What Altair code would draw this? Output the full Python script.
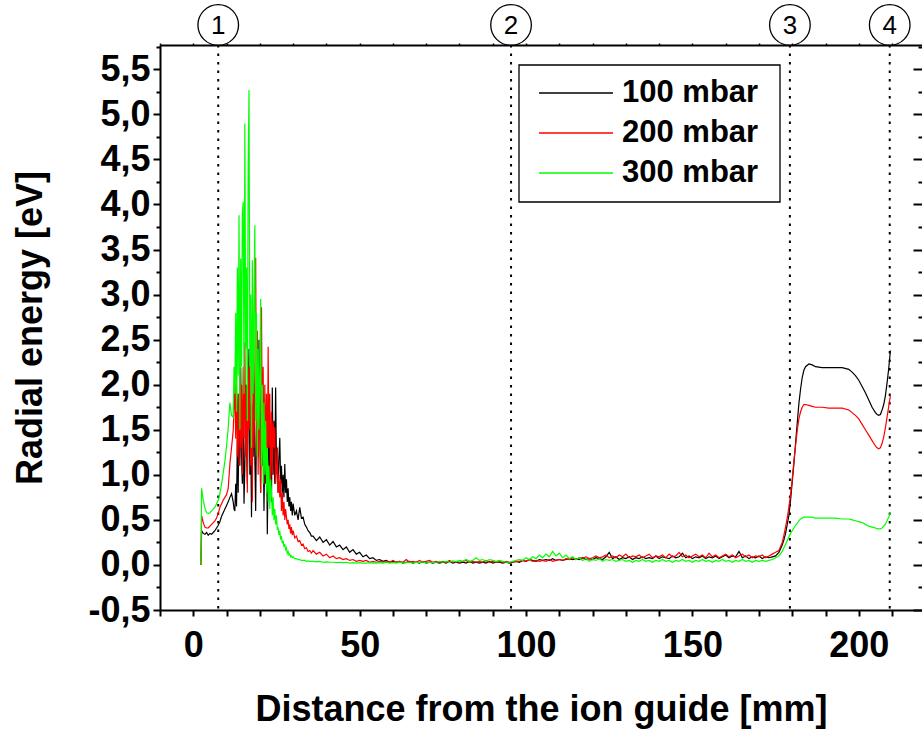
import altair as alt
import pandas as pd

FONT = "Liberation Sans"

SERIES = ["100 mbar", "200 mbar", "300 mbar"]
COLORS = ["#000000", "#ff0000", "#00ff00"]

# ---- x sampling grids (mm) ----
HX = [2.3, 2.5, 3, 3.5, 4, 4.5, 5, 5.5, 6, 6.5,
      7, 7.5, 8, 8.5, 9, 9.5, 10, 10.5, 11, 11.5,
      12, 12.25, 12.5, 12.75, 13, 13.25, 13.5, 13.75, 14, 14.25,
      14.5, 14.75, 15, 15.25, 15.5, 15.75, 16, 16.25, 16.5, 16.75,
      17, 17.25, 17.5, 17.75, 18, 18.25, 18.5, 18.75, 19, 19.25,
      19.5, 19.75, 20, 20.25, 20.5, 20.75, 21, 21.25, 21.5, 21.75,
      22, 22.25, 22.5, 22.75, 23, 23.25, 23.5, 23.75, 24, 24.25,
      24.5, 24.75, 25, 25.25, 25.5, 25.75, 26, 26.25, 26.5, 26.75,
      27, 27.25, 27.5, 27.75, 28, 28.25, 28.5, 28.75, 29, 29.25,
      29.5, 29.75, 30, 30.5, 31, 31.5, 32, 32.5, 33, 33.5,
      34, 34.5, 35, 35.5]

FX = [36, 37, 38, 39, 40, 41, 42, 43, 44, 45,
      46, 47, 48, 49, 50, 51, 52, 53, 54, 55,
      56, 57, 58, 59, 60, 61, 62, 63, 64, 65,
      66, 67, 68, 69, 70, 71, 72, 73, 74, 75,
      76, 77, 78, 79, 80, 81, 82, 83, 84, 85,
      86, 87, 88, 89, 90, 91, 92, 93, 94, 95,
      96, 97, 98, 99, 100, 101, 102, 103, 104, 105,
      106, 107, 108, 109, 110, 111, 112, 113, 114, 115,
      116, 117, 118, 119, 120, 121, 122, 123, 124, 125,
      126, 127, 128, 129, 130, 131, 132, 133, 134, 135,
      136, 137, 138, 139, 140, 141, 142, 143, 144, 145,
      146, 147, 148, 149, 150, 151, 152, 153, 154, 155,
      156, 157, 158, 159, 160, 161, 162, 163, 164, 165,
      166, 167, 168, 169, 170, 171, 172, 173, 174, 175]

TX = [176, 177, 177.5, 178, 178.5, 179, 179.5, 180, 180.5, 181,
      181.5, 182, 182.5, 183, 183.5, 184, 185, 186, 187, 189,
      191, 193, 195, 197, 198, 199, 200, 201, 202, 203,
      204, 205, 205.5, 206, 206.5, 207, 207.5, 208, 208.5, 209,
      209.5]

# ---- 100 mbar (black) ----
B_HEAD = [0.0, 0.38, 0.35, 0.34, 0.36, 0.33, 0.35, 0.34, 0.36, 0.38,
          0.41, 0.44, 0.48, 0.54, 0.58, 0.62, 0.66, 0.70, 0.75, 0.79,
          0.70, 0.62, 0.60, 0.90, 0.65, 1.40, 0.80, 1.90, 1.10, 2.19,
          1.20, 0.90, 1.60, 0.68, 1.10, 2.00, 1.34, 0.90, 1.70, 2.40,
          1.00, 1.50, 0.53, 1.75, 1.20, 2.00, 1.19, 0.60, 1.60, 2.03,
          1.20, 2.50, 1.60, 0.80, 2.03, 1.10, 1.50, 0.60, 1.30, 0.90,
          1.70, 0.34, 1.10, 1.60, 0.90, 1.40, 0.70, 1.97, 1.00, 1.60,
          0.90, 1.97, 1.10, 1.30, 0.80, 1.20, 1.41, 0.90, 1.10, 0.80,
          1.00, 0.75, 1.12, 0.80, 0.95, 0.70, 0.85, 0.65, 0.75, 0.60,
          0.70, 0.55, 0.68, 0.55, 0.60, 0.50, 0.64, 0.52, 0.53, 0.45,
          0.42, 0.38, 0.36, 0.32]
B_FLAT = [0.32, 0.27, 0.31, 0.25, 0.28, 0.22, 0.26, 0.20, 0.22, 0.17,
          0.20, 0.14, 0.17, 0.12, 0.14, 0.09, 0.11, 0.07, 0.08, 0.05,
          0.06, 0.04, 0.05, 0.03, 0.04, 0.03, 0.04, 0.02, 0.03, 0.04,
          0.02, 0.03, 0.02, 0.04, 0.02, 0.03, 0.02, 0.03, 0.02, 0.03,
          0.02, 0.04, 0.02, 0.03, 0.02, 0.03, 0.02, 0.04, 0.02, 0.03,
          0.02, 0.03, 0.02, 0.04, 0.02, 0.03, 0.03, 0.02, 0.03, 0.02,
          0.03, 0.04, 0.03, 0.05, 0.04, 0.06, 0.05, 0.04, 0.06, 0.05,
          0.06, 0.05, 0.07, 0.05, 0.06, 0.05, 0.06, 0.07, 0.06, 0.07,
          0.06, 0.08, 0.06, 0.07, 0.06, 0.08, 0.07, 0.06, 0.09, 0.14,
          0.07, 0.09, 0.06, 0.08, 0.07, 0.09, 0.06, 0.08, 0.07, 0.09,
          0.07, 0.08, 0.07, 0.10, 0.07, 0.09, 0.08, 0.07, 0.10, 0.08,
          0.09, 0.13, 0.08, 0.10, 0.07, 0.09, 0.08, 0.10, 0.07, 0.09,
          0.08, 0.10, 0.07, 0.09, 0.11, 0.08, 0.10, 0.09, 0.15, 0.08,
          0.10, 0.07, 0.09, 0.08, 0.10, 0.07, 0.09, 0.08, 0.09, 0.10]
B_TAIL = [0.14, 0.22, 0.28, 0.35, 0.45, 0.55, 0.72, 0.92, 1.12, 1.35,
          1.57, 1.79, 1.95, 2.08, 2.16, 2.20, 2.23, 2.22, 2.20, 2.19,
          2.19, 2.19, 2.19, 2.17, 2.14, 2.10, 2.05, 1.98, 1.91, 1.83,
          1.75, 1.69, 1.67, 1.66, 1.67, 1.72, 1.78, 1.88, 2.02, 2.18,
          2.38]

# ---- 200 mbar (red) ----
R_HEAD = [0.0, 0.55, 0.47, 0.42, 0.41, 0.41, 0.43, 0.45, 0.47, 0.49,
          0.52, 0.57, 0.64, 0.68, 0.72, 0.75, 0.78, 0.85, 1.12, 1.30,
          1.49, 1.75, 2.00, 1.40, 2.10, 1.20, 1.90, 1.10, 2.30, 1.30,
          2.00, 1.00, 2.20, 1.40, 2.47, 1.20, 2.00, 0.80, 2.20, 1.50,
          2.30, 1.10, 1.80, 0.70, 2.53, 1.30, 2.00, 3.41, 1.20, 2.60,
          1.00, 2.20, 1.50, 0.80, 2.86, 1.30, 2.20, 0.90, 2.00, 1.20,
          1.90, 0.90, 2.42, 1.30, 1.90, 0.90, 1.70, 1.00, 1.60, 1.30,
          1.53, 0.90, 1.04, 1.30, 0.80, 1.00, 0.75, 0.95, 0.60, 0.80,
          0.55, 0.70, 0.50, 0.62, 0.53, 0.45, 0.50, 0.40, 0.45, 0.35,
          0.42, 0.33, 0.38, 0.30, 0.32, 0.26, 0.27, 0.22, 0.23, 0.18,
          0.19, 0.15, 0.16, 0.13]
R_FLAT = [0.16, 0.12, 0.14, 0.10, 0.12, 0.08, 0.10, 0.07, 0.08, 0.06,
          0.07, 0.05, 0.06, 0.04, 0.05, 0.04, 0.05, 0.03, 0.04, 0.03,
          0.04, 0.03, 0.04, 0.03, 0.05, 0.03, 0.04, 0.03, 0.06, 0.03,
          0.04, 0.03, 0.05, 0.03, 0.04, 0.05, 0.03, 0.04, 0.03, 0.04,
          0.03, 0.05, 0.03, 0.04, 0.03, 0.04, 0.05, 0.03, 0.04, 0.03,
          0.04, 0.03, 0.05, 0.03, 0.04, 0.03, 0.04, 0.03, 0.04, 0.03,
          0.03, 0.04, 0.04, 0.05, 0.04, 0.06, 0.04, 0.05, 0.04, 0.05,
          0.04, 0.06, 0.04, 0.05, 0.06, 0.05, 0.07, 0.06, 0.08, 0.06,
          0.08, 0.07, 0.09, 0.07, 0.08, 0.10, 0.08, 0.09, 0.11, 0.08,
          0.10, 0.08, 0.11, 0.09, 0.12, 0.08, 0.10, 0.09, 0.11, 0.08,
          0.10, 0.12, 0.08, 0.10, 0.09, 0.11, 0.08, 0.12, 0.09, 0.10,
          0.14, 0.09, 0.11, 0.08, 0.10, 0.12, 0.09, 0.11, 0.08, 0.13,
          0.09, 0.11, 0.08, 0.10, 0.12, 0.09, 0.11, 0.08, 0.10, 0.12,
          0.09, 0.11, 0.08, 0.10, 0.09, 0.11, 0.08, 0.10, 0.12, 0.14]
R_TAIL = [0.16, 0.25, 0.33, 0.42, 0.52, 0.64, 0.78, 0.95, 1.15, 1.32,
          1.49, 1.62, 1.70, 1.75, 1.78, 1.78, 1.77, 1.76, 1.75, 1.75,
          1.74, 1.74, 1.74, 1.72, 1.69, 1.66, 1.62, 1.56, 1.50, 1.44,
          1.38, 1.32, 1.30, 1.29, 1.30, 1.35, 1.42, 1.52, 1.64, 1.76,
          1.88]

# ---- 300 mbar (green) ----
G_HEAD = [0.0, 0.85, 0.72, 0.63, 0.58, 0.57, 0.58, 0.60, 0.62, 0.64,
          0.68, 0.72, 0.79, 0.90, 1.02, 1.15, 1.32, 1.52, 1.80, 1.66,
          1.64, 2.20, 1.90, 2.80, 1.70, 3.30, 2.10, 3.88, 1.50, 3.40,
          2.20, 3.90, 4.03, 1.90, 4.90, 2.40, 3.30, 1.60, 4.40, 5.27,
          2.20, 3.00, 1.30, 3.38, 1.90, 2.90, 3.77, 1.60, 2.80, 1.20,
          2.40, 1.50, 2.20, 2.95, 1.10, 2.00, 0.90, 1.80, 1.00, 1.60,
          0.80, 1.30, 0.70, 1.10, 0.62, 0.95, 0.82, 0.55, 0.75, 0.50,
          0.62, 0.45, 0.55, 0.40, 0.41, 0.33, 0.38, 0.28, 0.32, 0.24,
          0.27, 0.20, 0.23, 0.17, 0.19, 0.13, 0.15, 0.11, 0.12, 0.09,
          0.10, 0.08, 0.09, 0.07, 0.07, 0.06, 0.06, 0.05, 0.05, 0.05,
          0.04, 0.045, 0.04, 0.04]
G_FLAT = [0.04, 0.035, 0.04, 0.03, 0.035, 0.03, 0.03, 0.025, 0.03, 0.025,
          0.03, 0.02, 0.025, 0.02, 0.025, 0.02, 0.02, 0.025, 0.02, 0.02,
          0.025, 0.02, 0.03, 0.02, 0.025, 0.02, 0.03, 0.02, 0.025, 0.03,
          0.02, 0.03, 0.025, 0.035, 0.02, 0.03, 0.025, 0.03, 0.04, 0.03,
          0.04, 0.03, 0.045, 0.035, 0.05, 0.04, 0.06, 0.04, 0.05, 0.08,
          0.05, 0.06, 0.04, 0.06, 0.05, 0.04, 0.05, 0.04, 0.03, 0.03,
          0.04, 0.05, 0.06, 0.05, 0.08, 0.06, 0.09, 0.07, 0.11, 0.08,
          0.12, 0.09, 0.15, 0.10, 0.13, 0.08, 0.11, 0.07, 0.09, 0.06,
          0.08, 0.05, 0.07, 0.04, 0.06, 0.05, 0.07, 0.04, 0.06, 0.05,
          0.06, 0.04, 0.05, 0.06, 0.04, 0.05, 0.03, 0.05, 0.04, 0.06,
          0.04, 0.05, 0.03, 0.05, 0.04, 0.06, 0.04, 0.05, 0.03, 0.05,
          0.04, 0.06, 0.04, 0.05, 0.03, 0.05, 0.04, 0.06, 0.04, 0.05,
          0.03, 0.05, 0.04, 0.06, 0.04, 0.05, 0.03, 0.05, 0.04, 0.06,
          0.04, 0.05, 0.03, 0.05, 0.04, 0.05, 0.04, 0.05, 0.06, 0.08]
G_TAIL = [0.10, 0.15, 0.19, 0.23, 0.27, 0.31, 0.35, 0.38, 0.41, 0.44,
          0.46, 0.49, 0.51, 0.52, 0.53, 0.53, 0.53, 0.53, 0.52, 0.52,
          0.52, 0.52, 0.51, 0.51, 0.50, 0.49, 0.48, 0.47, 0.45, 0.43,
          0.42, 0.41, 0.40, 0.40, 0.40, 0.41, 0.43, 0.45, 0.49, 0.53,
          0.58]

# ---- marker positions (dotted lines + circled numbers) ----
MARK_X = [7.5, 95.5, 179.3, 209.3]
MARK_N = ["1", "2", "3", "4"]

XTICKS = [-10, 0, 10, 20, 30, 40, 50, 60, 70, 80, 90, 100, 110,
          120, 130, 140, 150, 160, 170, 180, 190, 200, 210]
YMAJOR = [-0.5, 0.0, 0.5, 1.0, 1.5, 2.0, 2.5, 3.0, 3.5, 4.0, 4.5, 5.0, 5.5]
YMINOR = [-0.25, 0.25, 0.75, 1.25, 1.75, 2.25, 2.75, 3.25, 3.75,
          4.25, 4.75, 5.25, 5.75]

# ---- build table ----
rows = []
segments = {
    "100 mbar": [(HX, B_HEAD), (FX, B_FLAT), (TX, B_TAIL)],
    "200 mbar": [(HX, R_HEAD), (FX, R_FLAT), (TX, R_TAIL)],
    "300 mbar": [(HX, G_HEAD), (FX, G_FLAT), (TX, G_TAIL)],
}
for name, segs in segments.items():
    i = 0
    for xs_, ys_ in segs:
        for xv, yv in zip(xs_, ys_):
            rows.append({"series": name, "x": xv, "y": yv, "i": i})
            i += 1
df = pd.DataFrame(rows)
marks_df = pd.DataFrame({"x": MARK_X, "n": MARK_N})
leg_df = pd.DataFrame({"series": SERIES, "i": [0, 1, 2]})
one = pd.DataFrame({"x": [100.0], "y": [1.0]})

xs = alt.Scale(domain=[-10, 219], nice=False, zero=False)
ys = alt.Scale(domain=[-0.5, 5.77], nice=False, zero=False)
cs = alt.Scale(domain=SERIES, range=COLORS)

x_axis = alt.Axis(
    orient="bottom", values=XTICKS, format="d",
    labelExpr="datum.value % 50 == 0 ? datum.label : ''",
    tickSize=6, tickWidth=2, tickColor="black",
    domainWidth=2, domainColor="black", grid=False,
    labelFont=FONT, labelFontSize=36, labelFontWeight="bold", labelColor="black",
    labelPadding=12, labelFlush=False, labelOverlap=False,
    title="Distance from the ion guide [mm]", titleFont=FONT, titleFontSize=36,
    titleFontWeight="bold", titleColor="black", titlePadding=29,
)
y_axis = alt.Axis(
    orient="left", values=YMAJOR, format=".1f",
    labelExpr="replace(replace(datum.label, '.', ','), '\u2212', '-')",
    tickSize=7, tickWidth=2, tickColor="black",
    domainWidth=2, domainColor="black", grid=False,
    labelFont=FONT, labelFontSize=36, labelFontWeight="bold", labelColor="black",
    labelPadding=3, labelFlush=False, labelOverlap=False,
    title="Radial energy [eV]", titleFont=FONT, titleFontSize=36,
    titleFontWeight="bold", titleColor="black", titlePadding=38,
)

vlines = alt.Chart(marks_df).mark_rule(
    color="black", strokeWidth=2, strokeDash=[2.5, 6]
).encode(x=alt.X("x:Q", scale=xs, axis=None))

lines = alt.Chart(df).mark_line(strokeWidth=1.2, clip=True).encode(
    x=alt.X("x:Q", scale=xs, axis=x_axis),
    y=alt.Y("y:Q", scale=ys, axis=y_axis),
    color=alt.Color("series:N", scale=cs, legend=None),
    order=alt.Order("i:Q"),
)

minor = alt.Chart(one).mark_point(opacity=0).encode(
    x=alt.X("x:Q", scale=xs, axis=alt.Axis(
        orient="top", values=XTICKS, labels=False, tickSize=2, tickWidth=1.5,
        tickColor="black", domainWidth=2, domainColor="black", grid=False, title=None)),
    y=alt.Y("y:Q", scale=ys, axis=alt.Axis(
        orient="left", values=YMINOR, labels=False, tickSize=4, tickWidth=2,
        tickColor="black", domain=False, grid=False, title=None)),
)
right_major = alt.Chart(one).mark_point(opacity=0).encode(
    x=alt.X("x:Q", scale=xs, axis=None),
    y=alt.Y("y:Q", scale=ys, axis=alt.Axis(
        orient="right", values=YMAJOR, labels=False, tickSize=9, tickWidth=2,
        tickColor="black", domain=False, grid=False, title=None, offset=-9)),
)
right_minor = alt.Chart(one).mark_point(opacity=0).encode(
    x=alt.X("x:Q", scale=xs, axis=None),
    y=alt.Y("y:Q", scale=ys, axis=alt.Axis(
        orient="right", values=YMINOR, labels=False, tickSize=4, tickWidth=2,
        tickColor="black", domain=False, grid=False, title=None, offset=-4)),
)

circles = alt.Chart(marks_df).mark_point(
    shape="circle", size=1650, filled=False, color="black", strokeWidth=1.3, opacity=1
).encode(x=alt.X("x:Q", scale=xs, axis=None), y=alt.value(-20))
circle_text = alt.Chart(marks_df).mark_text(
    font=FONT, fontSize=26, align="center", baseline="middle", color="black", dy=1
).encode(x=alt.X("x:Q", scale=xs, axis=None), y=alt.value(-20), text="n:N")

# legend (drawn as marks)
leg_box = alt.Chart(one).mark_rect(
    fill="white", stroke="black", strokeWidth=1.3
).encode(x=alt.value(359), x2=alt.value(620), y=alt.value(20), y2=alt.value(157))
leg_lines = alt.Chart(leg_df).transform_calculate(
    ly="48 + 40 * datum.i"
).mark_rule(strokeWidth=1.3).encode(
    x=alt.value(379), x2=alt.value(453),
    y=alt.Y("ly:Q", scale=None, axis=None),
    color=alt.Color("series:N", scale=cs, legend=None),
)
leg_text = alt.Chart(leg_df).transform_calculate(
    ly="48 + 40 * datum.i"
).mark_text(
    align="left", baseline="middle", font=FONT, fontSize=31, fontWeight="bold", color="black"
).encode(x=alt.value(462), y=alt.Y("ly:Q", scale=None, axis=None), text="series:N")

chart = alt.layer(
    vlines, lines, minor, right_major, right_minor, circles, circle_text,
    leg_box, leg_lines, leg_text
).resolve_axis(x="independent", y="independent").properties(
    width=762, height=565,
    padding={"left": 160, "top": 45, "right": 0, "bottom": 119},
    autosize=alt.AutoSizeParams(type="none"),
    background="white",
).configure_view(stroke=None)

chart.save("out.html", embed_options={"renderer": "svg", "actions": False})
